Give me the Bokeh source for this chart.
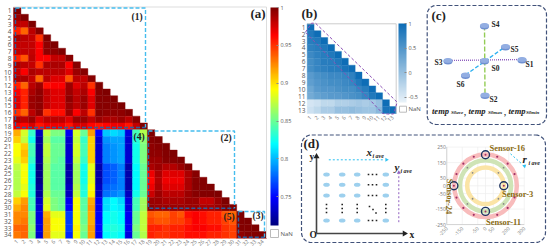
import numpy as np
from bokeh.plotting import figure
from bokeh.embed import file_html
from bokeh.resources import INLINE
from bokeh.core.properties import value
from bokeh.models import Range1d, ColumnDataSource, LinearColorMapper, ColorBar, FixedTicker
from bokeh.transform import transform

# ---------- panel (a): 34 x 34 lower-triangular correlation matrix
a_block1 = [
 [1],
 [.992,1],
 [.983,.98,1],
 [.955,.935,.983,.997],
 [.987,.983,.98,.95,1],
 [.98,.98,.98,.965,.995,1],
 [.98,.98,.98,.965,.995,.995,1],
 [.955,.94,.983,.965,.965,.98,.98,.997],
 [.987,.983,.98,.95,.987,.987,.987,.965,.997],
 [.98,.965,.987,.983,.983,.983,.983,.972,.992,.997],
 [.987,.987,.98,.935,.983,.972,.972,.94,.983,.98,.997],
 [.955,.935,.983,.992,.96,.965,.965,.992,.972,.983,.95,1],
 [.965,.955,.987,.995,.98,.972,.972,.992,.98,.987,.965,.997,1],
 [.972,.955,.992,.995,.98,.972,.972,.995,.983,.992,.972,.997,.997,1],
 [.972,.955,.992,.995,.98,.972,.972,.992,.983,.992,.972,.997,.997,.997,1],
 [.95,.935,.983,.995,.95,.96,.96,.992,.965,.983,.95,.997,.995,.995,.995,1],
 [.987,.983,.992,.972,.983,.983,.983,.972,.992,.992,.98,.992,.987,.987,.992,.983,.997],
 [.968,.962,.975,.958,.968,.968,.968,.958,.975,.975,.962,.958,.962,.968,.968,.958,.98,1],
]
a_block4 = [
 [.915,.88,.835,.73,.875,.855,.855,.745,.88,.85,.92,.75,.805,.81,.805,.74,.84,.87],
 [.905,.875,.825,.72,.865,.845,.845,.735,.875,.835,.905,.735,.79,.795,.795,.735,.83,.86],
 [.89,.905,.84,.72,.875,.85,.85,.735,.88,.84,.905,.735,.785,.79,.795,.735,.825,.855],
 [.89,.91,.84,.72,.875,.85,.85,.735,.88,.84,.905,.735,.785,.79,.795,.735,.825,.855],
 [.885,.905,.835,.72,.87,.85,.845,.735,.875,.835,.905,.735,.785,.79,.795,.735,.825,.855],
 [.875,.89,.825,.715,.865,.845,.845,.725,.865,.825,.885,.725,.77,.775,.785,.725,.82,.85],
 [.87,.89,.825,.715,.865,.845,.845,.725,.865,.825,.885,.725,.77,.775,.785,.725,.82,.85],
 [.87,.89,.825,.715,.865,.845,.845,.725,.865,.825,.885,.725,.77,.775,.785,.725,.82,.85],
 [.87,.885,.83,.72,.865,.845,.845,.73,.87,.83,.89,.73,.775,.78,.785,.725,.82,.85],
 [.875,.89,.83,.72,.87,.85,.85,.73,.875,.83,.895,.73,.78,.785,.79,.73,.825,.85],
 [.905,.92,.84,.73,.88,.855,.85,.745,.89,.845,.915,.745,.81,.82,.81,.74,.84,.865],
 [.915,.925,.84,.735,.885,.855,.85,.75,.89,.845,.92,.745,.81,.82,.815,.74,.84,.865],
 [.925,.925,.855,.74,.915,.885,.885,.765,.89,.85,.915,.75,.82,.825,.82,.745,.85,.875],
 [.925,.93,.855,.74,.92,.89,.89,.765,.89,.85,.915,.75,.82,.825,.82,.745,.85,.875],
 [.935,.935,.86,.74,.92,.89,.89,.765,.895,.855,.92,.75,.825,.83,.825,.745,.855,.875],
 [.93,.935,.855,.735,.92,.885,.885,.76,.89,.85,.92,.745,.82,.825,.82,.74,.85,.87],
]
a_block2 = [
 [1],
 [.997,1],
 [.995,.997,1],
 [.995,.995,.998,1],
 [.992,.992,.997,.997,1],
 [.987,.992,.985,.985,.992,1],
 [.968,.987,.972,.972,.972,.987,.997],
 [.962,.985,.968,.968,.968,.987,.997,.998],
 [.968,.987,.972,.972,.972,.987,.997,.998,1],
 [.978,.992,.983,.983,.983,.992,.997,.998,.998,1],
 [.992,.992,.987,.987,.987,.992,.992,.98,.98,.992,1],
 [.995,.992,.992,.992,.992,.992,.992,.987,.987,.992,.998,1],
 [.94,.935,.935,.945,.94,.96,.965,.96,.955,.955,.94,.935,1],
 [.945,.94,.94,.945,.945,.955,.965,.96,.955,.955,.945,.94,.998,1],
 [.955,.955,.95,.955,.955,.96,.965,.965,.96,.96,.95,.945,.998,.998,1],
 [.955,.95,.95,.955,.955,.96,.96,.96,.955,.955,.95,.945,.995,.998,.998,1],
]
a_labels = [str(i) for i in range(1, 35)]
a_cbar_ticks = [0.75, 0.8, 0.85, 0.9, 0.95, 1]
a_cbar_labels = ["0.75", "0.8", "0.85", "0.9", "0.95", "1"]

# ---------- panel (b): 13 x 13 lower-triangular matrix
b_rows = [
 [1],
 [.85,1],
 [.8,.85,1],
 [.75,.8,.85,1],
 [.65,.75,.8,.85,1],
 [.6,.7,.8,.8,.85,1],
 [.6,.7,.75,.8,.8,.9,1],
 [.45,.55,.6,.65,.65,.7,.75,1],
 [.4,.5,.55,.6,.6,.65,.7,.85,1],
 [.3,.45,.5,.5,.55,.6,.6,.7,.8,1],
 [.25,.35,.4,.45,.45,.5,.55,.6,.7,.85,1],
 [-.45,-.4,-.3,-.3,-.2,-.2,-.15,-.1,-.15,-.1,0,1],
 [-.4,-.3,-.15,-.15,0,0,.05,0,-.05,-.05,.1,.9,1],
]
b_labels = [str(i) for i in range(1, 14)]
b_cbar_ticks = [-0.5, 0, 0.5, 1]
b_cbar_labels = ["-0.5", "0", "0.5", "1"]

# ---------- panel (c): sensor layout
c_names = ["S0", "S1", "S2", "S3", "S4", "S5", "S6"]
c_x = [484, 521.5, 484.5, 447.5, 484, 505, 465]
c_y = [60, 59, 94.5, 60, 25, 46, 74.5]
c_lx = [491, 525, 489, 434, 491, 510, 456]
c_ly = [68, 64, 99, 62, 24, 49, 84]

# ---------- panel (d): grid of sensors and rings
d_cols = [326, 341.7, 356.7, 385.3]
d_rows = [174, 184.3, 195, 220]
ring_radius = [202, 165, 118]
ring_color = ["#f8bcbc", "#cfe4b6", "#fbe4a6"]
polar_ticks = [-250, -150, -50, 0, 50, 150, 250]
polar_xlabels = ["-250", "-150", "-50", "0", "50", "200", "300"]
polar_xpos = [-250, -150, -50, 0, 50, 150, 250]
sensor_names = ["Sensor-16", "Sensor-3", "Sensor-11", "Sensor-24"]
sensor_x = [0, 118, 0, -204]
sensor_y = [200, 0, -165, 0]
pink_dots_deg = [22, 45, 68, 112, 135, 158, 202, 225, 248, 292, 315, 338]
grey_dots_deg = [45, 135, 225, 315]

W, H = 550, 252
p = figure(width=W, height=H, output_backend="svg", toolbar_location=None,
           x_range=Range1d(0, W), y_range=Range1d(H, 0),
           x_axis_location=None, y_axis_location=None,
           min_border=0, outline_line_color=None, background_fill_color="white")
p.grid.visible = False


def add_scale(name, x0, xw, y0, yh):
    """Extra ranges that place cell index 1 with its outer edge at x0 / y0."""
    p.extra_x_ranges[name + "x"] = Range1d(0.5 - x0 / xw, 0.5 + (W - x0) / xw)
    p.extra_y_ranges[name + "y"] = Range1d(0.5 + (H - y0) / yh, 0.5 - y0 / yh)


AX0, AW, AY0, AH = 13, 7.44, 7, 6.79
add_scale("a", AX0, AW, AY0, AH)
BX0, BW, BY0, BH = 306.7, 6.85, 23.3, 6.9
add_scale("b", BX0, BW, BY0, BH)
p.extra_x_ranges["px"] = Range1d(-485 / .155, (W - 485) / .155)
p.extra_y_ranges["py"] = Range1d(-(H - 185.3) / .155, 185.3 / .155)

SERIF = value("Liberation Serif")
SANS = value("Open Sans")


def label(x, y, t, size, color="#222222", style="bold", font=SERIF, align="left",
          base="middle", angle=0.0, **kw):
    p.text(x=[x], y=[y], text=[t], text_font=font, text_font_size=f"{size}px",
           text_font_style=style, text_color=color, text_align=align,
           text_baseline=base, angle=angle, **kw)


def rounded(x0, y0, x1, y1, r):
    xs, ys = [], []
    for cx, cy, a0 in [(x1 - r, y0 + r, -90), (x1 - r, y1 - r, 0), (x0 + r, y1 - r, 90), (x0 + r, y0 + r, 180)]:
        t = np.radians(np.linspace(a0, a0 + 90, 9))
        xs += list(cx + r * np.cos(t))
        ys += list(cy + r * np.sin(t))
    return xs + xs[:1], ys + ys[:1]


# ---------- jet colour map
t = np.linspace(0, 1, 256)
rgb = np.clip(np.stack([1.5 - np.abs(4 * t - 3), 1.5 - np.abs(4 * t - 2), 1.5 - np.abs(4 * t - 1)], 1), 0, 1)
jet = ["#%02x%02x%02x" % tuple(int(c * 255) for c in row) for row in rgb]
a_map = LinearColorMapper(palette=jet, low=0.712, high=1)

# ---------- heatmap (a)
all_rows = a_block1 + [l + r for l, r in zip(a_block4, a_block2)]
ax, ay, av = [], [], []
for ri, row in enumerate(all_rows, 1):
    for ci, v in enumerate(row, 1):
        ax.append(ci); ay.append(ri); av.append(v)
src_a = ColumnDataSource(dict(x=ax, y=ay, v=av))
p.rect("x", "y", 1, 1, source=src_a, x_range_name="ax", y_range_name="ay",
       fill_color=transform("v", a_map), line_color=transform("v", a_map), line_width=0.4)

# frame of (a)
p.line([13, 266, 266], [6.5, 6.5, 237.5], line_color="#dddddd", line_width=1)

# ticks labels of (a)
p.text(x=[11] * 34, y=list(range(1, 35)), text=a_labels, y_range_name="ay", text_font=SANS,
       text_font_size="6.5px", text_color="#555555", text_align="right", text_baseline="middle")
p.text(x=list(range(1, 35)), y=[240] * 34, text=a_labels, x_range_name="ax", text_font=SANS,
       text_font_size="5.5px", text_color="#777777", text_align="right", text_baseline="middle",
       angle=0.785)

# dashed region boxes of (a)
LIGHT, DARK = "#45bdee", "#2a5f9e"
def box(x0, y0, x1, y1):
    p.line([x0, x1, x1], [y0, y0, y1], line_color=LIGHT, line_width=1.4, line_dash="4 2")
    p.line([x0, x0, x1], [y0, y1, y1], line_color=DARK, line_width=1.4, line_dash="4 2")
box(15, 7.5, 145, 127)
box(148, 130.5, 234, 207.7)
box(238, 211, 264, 236.7)

for x, y, s in [(131, 16, "(1)"), (220, 137, "(2)"), (252, 215.5, "(3)"), (133, 136.5, "(4)"), (223, 216, "(5)")]:
    label(x, y, s, 9.5)
label(250, 13, "(a)", 13)

# colour bar and NaN of (a)
cb_a = ColorBar(color_mapper=a_map, location=(270, H - 225), width=8, height=218, padding=0, margin=0,
                ticker=FixedTicker(ticks=a_cbar_ticks),
                major_label_overrides=dict(zip(a_cbar_ticks, a_cbar_labels)),
                major_label_text_font_size="5.5px",
                major_label_text_color="#555555", major_label_text_font="Open Sans", bar_line_color=None,
                major_tick_line_color="#888888", major_tick_in=2, major_tick_out=0, label_standoff=2,
                background_fill_alpha=0, border_line_color=None)
p.add_layout(cb_a, "center")
p.quad(left=[270], right=[278], top=[229], bottom=[237], fill_color="white", line_color="#bbbbbb")
label(280, 233, "NaN", 6, color="#555555", style="normal", font=SANS)

# ---------- heatmap (b)
bx, by, bv = [], [], []
for ri, row in enumerate(b_rows, 1):
    for ci, v in enumerate(row, 1):
        bx.append(ci); by.append(ri); bv.append(v)
b0, b1 = np.array([0xea, 0xf3, 0xfa]), np.array([0x0e, 0x6d, 0xb6])
blues = ["#%02x%02x%02x" % tuple(int(c) for c in b0 + (b1 - b0) * f) for f in np.linspace(0, 1, 256)]
b_map = LinearColorMapper(palette=blues, low=-0.61, high=1)
src_b = ColumnDataSource(dict(x=bx, y=by, v=bv))
p.rect("x", "y", 1, 1, source=src_b, x_range_name="bx", y_range_name="by",
       fill_color=transform("v", b_map), line_color=transform("v", b_map), line_width=0.4)
p.line([306.7, 395.7, 395.7], [23.3, 23.3, 113], line_color="#cccccc", line_width=1)
p.text(x=[305] * 13, y=list(range(1, 14)), text=b_labels, y_range_name="by", text_font=SANS,
       text_font_size="6.5px", text_color="#555555", text_align="right", text_baseline="middle")
p.text(x=list(range(1, 14)), y=[116] * 13, text=b_labels, x_range_name="bx", text_font=SANS,
       text_font_size="5.5px", text_color="#777777", text_align="right", text_baseline="middle",
       angle=0.785)
p.line([305, 311, 315, 396.7, 393, 387, 382.3, 305],
       [31.7, 22.7, 22.7, 101.7, 113.5, 113.5, 113, 31.7], line_color="#8a4fb5", line_width=1, line_dash="3 2")
cb_b = ColorBar(color_mapper=b_map, location=(398, H - 102), width=8, height=79, padding=0, margin=0,
                ticker=FixedTicker(ticks=b_cbar_ticks),
                major_label_overrides=dict(zip(b_cbar_ticks, b_cbar_labels)),
                major_label_text_font_size="5.5px",
                major_label_text_color="#555555", major_label_text_font="Open Sans", bar_line_color=None,
                major_tick_line_color="#888888", major_tick_in=2, major_tick_out=0, label_standoff=2,
                background_fill_alpha=0, border_line_color=None)
p.add_layout(cb_b, "center")
p.quad(left=[399], right=[406], top=[105.7], bottom=[111.7], fill_color="white", line_color="#bbbbbb")
label(408, 108.8, "NaN", 6, color="#555555", style="normal", font=SANS)
label(301, 12.5, "(b)", 13)

# ---------- panel (c)
FRAME = "#41527a"
xs, ys = rounded(426.7, 5, 546, 124, 9)
p.line(xs, ys, line_color=FRAME, line_width=1.2, line_dash="4 2")
label(431, 14.5, "(c)", 13)
p.line([484, 484.5], [25, 94.5], line_color="#93cc55", line_width=1.4, line_dash="5 2")
p.line([447.5, 521.5], [60, 59], line_color="#9060c0", line_width=1.4, line_dash="1 1")
p.line([465, 505], [74.5, 46], line_color="#2bb0f0", line_width=1.4, line_dash="4 2")
p.ellipse(c_x, [v + 1 for v in c_y], width=9, height=6, fill_color="#6f8fd0", line_color=None)
p.ellipse(c_x, c_y, width=9, height=5, fill_color="#93aee2", line_color=None)
for x, y, s in zip(c_lx, c_ly, c_names):
    label(x, y, s, 7.5)
for x, s in [(431.5, "temp"), (468, "temp"), (508, "temp")]:
    label(x, 110, s, 8.5, style="bold italic")
for x, s in [(450.5, "S0ave"), (487.5, "S0max"), (525.5, "S0min")]:
    label(x, 112, s, 5, style="bold italic")
for x in (463.5, 503.5):
    label(x, 111, ",", 8)

# ---------- panel (d)
xs, ys = rounded(301, 134.5, 545, 242, 10)
p.line(xs, ys, line_color=FRAME, line_width=1.2, line_dash="4 2")
label(303, 143, "(d)", 13)
p.line([316, 316], [233, 157], line_color="#444444", line_width=1.6)
p.line([316, 403], [233, 233], line_color="#444444", line_width=1.6)
p.scatter([316], [156], marker="triangle", size=6, fill_color="#222222", line_color=None)
p.scatter([404], [233], marker="triangle", size=6, angle=-1.5708, fill_color="#222222", line_color=None)
label(309, 156, "y", 9.5); label(409, 234, "x", 9.5); label(309, 234, "O", 9.5)
gx = [c for r in d_rows for c in d_cols]
gy = [r for r in d_rows for c in d_cols]
p.ellipse(gx, gy, width=6.5, height=4, fill_color="#9dd0ee", line_color=None)
dot_x, dot_y = [], []
for r in d_rows:
    for dx in (368, 372, 376):
        dot_x.append(dx); dot_y.append(r)
for c in d_cols:
    for dy in (204, 208, 212):
        dot_x.append(c); dot_y.append(dy)
dot_x += [369, 372.5, 375.5]; dot_y += [206, 209, 212.5]
p.scatter(dot_x, dot_y, marker="square", size=1.6, fill_color="#222222", line_color=None)

p.line([328.3, 384], [159.3, 159.3], line_color="#2bc0f0", line_width=1, line_dash="2 2")
p.scatter([386], [159.3], marker="triangle", size=4, angle=-1.5708, fill_color="#2bc0f0", line_color=None)
p.line([398.3, 398.3], [221.7, 173], line_color="#9060c0", line_width=1, line_dash="2 2")
p.scatter([398.3], [172], marker="triangle", size=4, fill_color="#9060c0", line_color=None)
label(366, 151, "x", 11, style="bold italic")
label(372, 155, "i", 6, style="bold italic"); label(375, 155, "ave", 6, style="bold italic")
label(394, 166, "y", 11, style="bold italic")
label(400, 170, "i", 6, style="bold italic"); label(403, 170, "ave", 6, style="bold italic")

# polar chart
PK = dict(x_range_name="px", y_range_name="py")
p.segment(x0=polar_xpos, y0=[-250] * 7, x1=polar_xpos, y1=[250] * 7, line_color="#eeeeee", line_width=0.7, **PK)
p.segment(x0=[-250] * 7, y0=polar_ticks, x1=[250] * 7, y1=polar_ticks, line_color="#eeeeee", line_width=0.7, **PK)
p.line([-250, -250, 250], [250, -250, -250], line_color="#cccccc", line_width=0.8, **PK)
for r, c in zip(ring_radius, ring_color):
    p.circle(x=[0], y=[0], radius=r, radius_dimension="x", fill_color=None, line_color=c, line_width=4.5, **PK)
ang = np.radians(pink_dots_deg)
p.scatter(list(ring_radius[0] * np.cos(ang)), list(ring_radius[0] * np.sin(ang)), size=2.2,
          fill_color="#a33066", line_color=None, **PK)
ang = np.radians(grey_dots_deg)
for r in ring_radius[1:]:
    p.scatter(list(r * np.cos(ang)), list(r * np.sin(ang)), size=1.8, fill_color="#888888", line_color=None, **PK)
p.scatter(sensor_x, sensor_y, marker="circle", size=8, fill_color=None, line_color="#1f3560", line_width=1.4, **PK)
p.scatter(sensor_x, sensor_y, marker="circle", size=2, fill_color="#a33066", line_color=None, **PK)
p.text(x=[-256] * 7, y=polar_ticks, text=[str(v) for v in polar_ticks], text_font=SANS, text_font_size="5px",
       text_color="#777777", text_align="right", text_baseline="middle", **PK)
p.text(x=polar_xpos, y=[-270] * 7, text=polar_xlabels, text_font=SANS, text_font_size="5px",
       text_color="#777777", text_align="right", text_baseline="middle", angle=0.785, **PK)

GOLD = "#8a6b12"
label(489, 147, sensor_names[0], 8.5, color=GOLD)
label(501.5, 193, sensor_names[1], 8.5, color=GOLD)
label(485.5, 221.5, sensor_names[2], 8.5, color=GOLD)
label(449, 196, sensor_names[3], 8.5, color=GOLD, align="center", angle=-1.5708)

p.line([510, 522], [153.3, 164], line_color="#2bc0f0", line_width=1, line_dash="2 2")
p.scatter([524], [165.5], marker="triangle", size=4, angle=-0.85, fill_color="#2bc0f0", line_color=None)
label(522, 158, "r", 11, style="bold italic")
label(528, 162, "i", 6, style="bold italic"); label(531, 162, "ave", 6, style="bold italic")

open("out.html", "w").write(file_html(p, INLINE))
